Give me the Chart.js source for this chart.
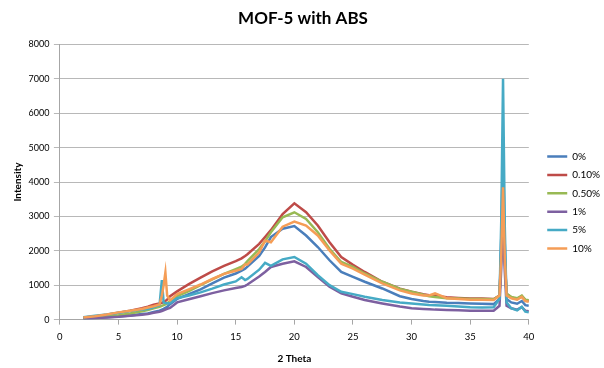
<!DOCTYPE html>
<html lang="en">
  <head>
    <meta charset="UTF-8" />
    <title>MOF-5 with ABS</title>
    <script src="https://cdn.jsdelivr.net/npm/chart.js@4.4.0/dist/chart.umd.min.js"></script>
    <style>
      html, body { margin: 0; padding: 0; background: #fff; }
      #wrap { width: 604px; height: 368px; position: relative; }
    </style>
  </head>
  <body>
    <div id="wrap"><canvas id="xrd"></canvas></div>

    <script>
      // 2 theta positions shared by every series
      const theta = [2, 3, 4, 5, 6, 7, 7.5, 8, 8.5, 8.7, 8.85, 9.0, 9.15, 9.4,
        10, 11, 12, 13, 14, 15, 15.5, 15.8, 16, 17, 17.5, 18, 19, 20, 21, 22,
        23, 24, 25, 26, 27.5, 29, 30, 31, 31.5, 32, 33, 34, 35, 36, 37,
        37.5, 37.65, 37.8, 37.95, 38.1, 38.5, 39, 39.4, 39.7, 40];

      const labels = ["0%", "0.10%", "0.50%", "1%", "5%", "10%"];

      const pct0 = [30, 50, 70, 90, 120, 160, 180, 220, 260, 290, 310, 340, 370, 450,
        600, 740, 880, 1050, 1220, 1340, 1420, 1480, 1540, 1850, 2100, 2400, 2640, 2720, 2445, 2110,
        1725, 1385, 1240, 1100, 905, 680, 600, 540, 520, 510, 490, 480, 470, 460, 450,
        600, 2400, 5000, 2200, 600, 500, 460, 540, 420, 400];

      const pct010 = [60, 90, 140, 200, 260, 330, 375, 430, 470, 490, 510, 540, 580, 680,
        820, 1030, 1220, 1400, 1560, 1700, 1780, 1850, 1900, 2200, 2400, 2600, 3070, 3380, 3120, 2735,
        2250, 1820, 1590, 1385, 1100, 900, 810, 740, 710, 690, 650, 630, 615, 610, 600,
        700, 2000, 3400, 1800, 750, 640, 600, 680, 560, 540];

      const pct050 = [40, 70, 100, 130, 180, 240, 280, 330, 370, 400, 420, 440, 470, 540,
        680, 830, 1000, 1170, 1330, 1470, 1540, 1620, 1700, 2050, 2280, 2540, 2975, 3120, 2925, 2540,
        2060, 1675, 1530, 1340, 1100, 890, 810, 720, 680, 660, 620, 610, 600, 600, 590,
        700, 1900, 3200, 1700, 750, 660, 620, 700, 580, 560];

      const pct1 = [30, 45, 60, 80, 110, 140, 160, 200, 230, 250, 270, 290, 310, 340,
        500, 590, 680, 770, 850, 920, 950, 980, 1020, 1250, 1385, 1530, 1625, 1695, 1530, 1240,
        955, 760, 665, 570, 470, 380, 330, 310, 300, 290, 280, 270, 260, 255, 260,
        400, 1500, 2800, 1400, 400, 330, 290, 360, 260, 240];

      const pct5 = [70, 110, 150, 200, 250, 290, 310, 360, 420, 1150, 500, 480, 470, 480,
        620, 700, 790, 900, 1020, 1110, 1230, 1150, 1180, 1450, 1650, 1560, 1750, 1820, 1625, 1290,
        1000, 810, 740, 665, 570, 500, 470, 440, 425, 415, 400, 380, 360, 355, 360,
        600, 2900, 7000, 2700, 500, 330, 270, 370, 230, 210];

      const pct10 = [60, 100, 150, 210, 260, 310, 350, 390, 440, 700, 1000, 1370, 700, 560,
        740, 880, 1020, 1180, 1330, 1420, 1470, 1600, 1600, 1950, 2300, 2250, 2700, 2850, 2735, 2445,
        2010, 1625, 1480, 1310, 1050, 850, 760, 700, 700, 760, 620, 600, 580, 575, 570,
        700, 1900, 3850, 1800, 700, 620, 580, 660, 540, 520];

      const xTicksMax = 40;
      const yTicksMax = 8000;

      const series = [pct0, pct010, pct050, pct1, pct5, pct10];
      const colors = ["#4A7EBB", "#BE4B48", "#98B954", "#7D60A0", "#46AAC5", "#F59D56"];

      const fontFamily = "Lato, 'Open Sans', sans-serif";

      const datasets = series.map((vals, i) => ({
        label: labels[i],
        data: vals.map((v, j) => ({ x: theta[j], y: v })),
        borderColor: colors[i],
        backgroundColor: colors[i],
        borderWidth: 2.5,
        pointRadius: 0,
        tension: 0,
        order: series.length - i, // later series drawn on top, like Excel
      }));

      // nudge the legend a bit right and down, Excel style
      const legendShift = {
        id: "legendShift",
        afterLayout(chart) {
          const lg = chart.legend;
          if (!lg) return;
          lg.left += 10; lg.right += 10;
          lg.top += 18; lg.bottom += 18;
        },
      };

      new Chart(document.getElementById("xrd"), {
        type: "line",
        data: { datasets },
        plugins: [legendShift],
        options: {
          responsive: true,
          maintainAspectRatio: false,
          animation: false,
          layout: { padding: { left: 6, right: 4, top: 4, bottom: 3 } },
          plugins: {
            tooltip: { enabled: false },
            title: {
              display: true,
              text: "MOF-5 with ABS",
              color: "#000",
              font: { family: fontFamily, size: 17, weight: "bold" },
              padding: { top: 4, bottom: 16 },
            },
            legend: {
              position: "right",
              labels: {
                usePointStyle: true,
                pointStyle: "line",
                pointStyleWidth: 20,
                padding: 8.4,
                color: "#000",
                font: { family: fontFamily, size: 10 },
                sort: (a, b) => a.datasetIndex - b.datasetIndex,
              },
            },
          },
          scales: {
            x: {
              type: "linear",
              min: 0,
              max: xTicksMax,
              ticks: { stepSize: 5, color: "#000", font: { family: fontFamily, size: 9.5 }, padding: 7 },
              grid: { drawOnChartArea: false, drawTicks: true, tickLength: 5, color: "#A6A6A6" },
              border: { color: "#A6A6A6", width: 1 },
              title: {
                display: true,
                text: "2 Theta",
                color: "#000",
                font: { family: fontFamily, size: 10, weight: "bold" },
                padding: { top: 3, bottom: 0 },
              },
            },
            y: {
              min: 0,
              max: yTicksMax,
              ticks: {
                stepSize: 1000,
                color: "#000",
                font: { family: fontFamily, size: 9 },
                padding: 4.5,
                callback: (v) => String(v),
              },
              grid: { color: "#B8B8B8", tickLength: 6, lineWidth: 1 },
              border: { color: "#A6A6A6", width: 1 },
              title: {
                display: true,
                text: "Intensity",
                color: "#000",
                font: { family: fontFamily, size: 10, weight: "bold" },
                padding: { top: 6, bottom: 0 },
              },
            },
          },
        },
      });
    </script>
  </body>
</html>
